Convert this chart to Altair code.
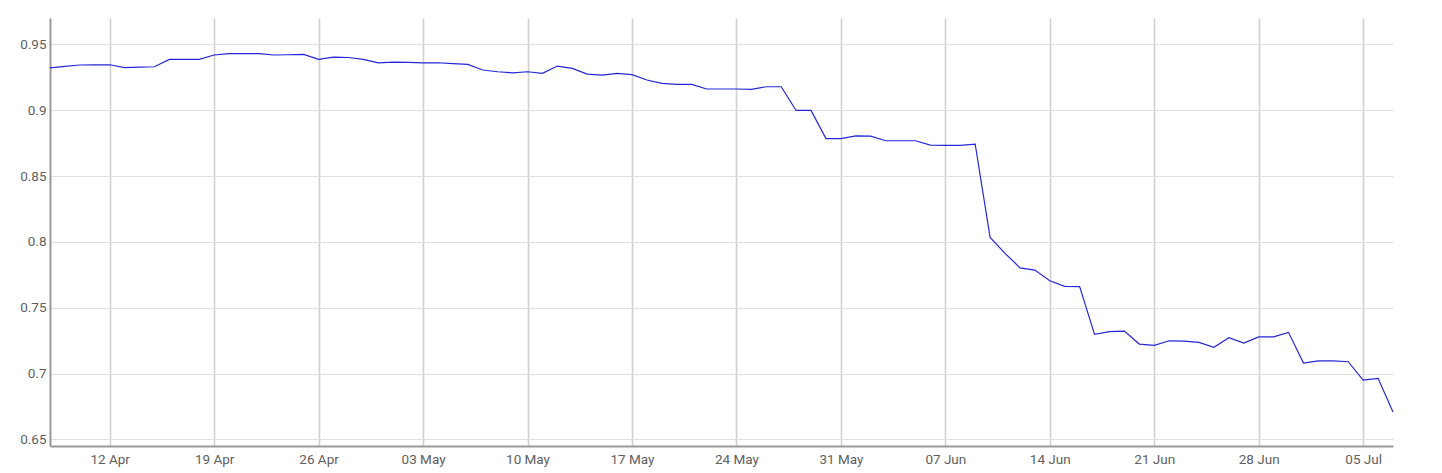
import altair as alt
import pandas as pd

start_date = "2021-04-08"
values = [
    0.9322, 0.9333, 0.9343, 0.9344, 0.9345, 0.9323, 0.9327, 0.9330, 0.9386, 0.9386,
    0.9386, 0.9419, 0.9430, 0.9430, 0.9430, 0.9419, 0.9421, 0.9424, 0.9386, 0.9403,
    0.9400, 0.9386, 0.9360, 0.9365, 0.9363, 0.9360, 0.9360, 0.9353, 0.9348, 0.9305,
    0.9292, 0.9284, 0.9292, 0.9280, 0.9335, 0.9317, 0.9274, 0.9267, 0.9280, 0.9270,
    0.9229, 0.9204, 0.9196, 0.9196, 0.9161, 0.9161, 0.9161, 0.9158, 0.9178, 0.9178,
    0.8998, 0.8998, 0.8784, 0.8784, 0.8805, 0.8803, 0.8768, 0.8768, 0.8768, 0.8735,
    0.8733, 0.8733, 0.8743, 0.8034, 0.7913, 0.7803, 0.7786, 0.7705, 0.7662, 0.7660,
    0.7298, 0.7318, 0.7323, 0.7224, 0.7214, 0.7249, 0.7247, 0.7237, 0.7199, 0.7272,
    0.7231, 0.7279, 0.7279, 0.7313, 0.7080, 0.7097, 0.7097, 0.7090, 0.6951, 0.6964,
    0.6709,
]
dates = pd.date_range(start_date, periods=len(values), freq="D")
tick_dates = pd.date_range("2021-04-12", "2021-07-05", freq="7D")
y_ticks = [0.65, 0.7, 0.75, 0.8, 0.85, 0.9, 0.95]

df = pd.DataFrame({"date": dates, "value": values})

x_ticks = [alt.DateTime(year=d.year, month=d.month, date=d.day) for d in tick_dates]

chart = alt.Chart(df).mark_line(color="#2626d6", strokeWidth=1.2).encode(
    x=alt.X(
        "date:T",
        title=None,
        scale=alt.Scale(domain=[alt.DateTime(year=2021, month=4, date=8),
                                alt.DateTime(year=2021, month=7, date=7)]),
        axis=alt.Axis(
            values=x_ticks, format="%d %b", labelFont="Roboto", labelFontSize=13.5,
            labelColor="#606060", tickSize=0, labelPadding=6,
            grid=True, gridColor="#d0d0d0", gridWidth=1.6,
            domainColor="#999999", domainWidth=2,
        ),
    ),
    y=alt.Y(
        "value:Q",
        title=None,
        scale=alt.Scale(domain=[0.645, 0.97], nice=False, zero=False),
        axis=alt.Axis(
            values=y_ticks, format=".2~f", labelFont="Roboto", labelFontSize=13.5,
            labelColor="#606060", tickSize=0, labelPadding=4,
            grid=True, gridColor="#e0e0e0", gridWidth=1,
            domainColor="#999999", domainWidth=2,
        ),
    ),
).properties(
    width=1343,
    height=428,
    autosize=alt.AutoSizeParams(type="none"),
    padding={"left": 42, "top": 10, "right": 41, "bottom": 27},
).configure_view(stroke=None)

chart.save("out.html", embed_options={"renderer": "svg", "actions": False})
